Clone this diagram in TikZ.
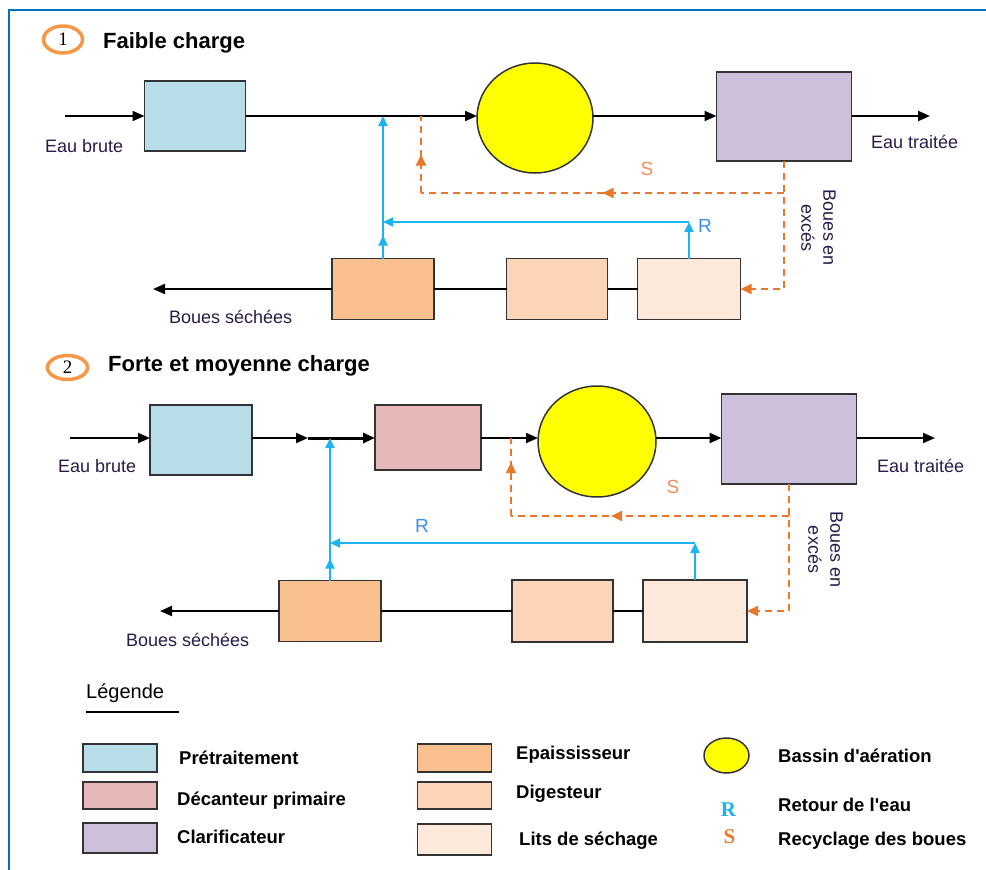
\documentclass[tikz,border=0pt]{standalone}
\usepackage{fontspec}
\setmainfont{Liberation Sans}
\newfontfamily\numfont{Liberation Serif}
\usetikzlibrary{arrows.meta,shapes.geometric,decorations.markings}

\definecolor{frameblue}{HTML}{0070C0}
\definecolor{boxline}{HTML}{333333}
\definecolor{cpre}{HTML}{B7DEE8}
\definecolor{cdec}{HTML}{E6B9B8}
\definecolor{ccla}{HTML}{CCC0DA}
\definecolor{cepa}{HTML}{FAC090}
\definecolor{cdig}{HTML}{FBD5B5}
\definecolor{clit}{HTML}{FDE9D9}
\definecolor{aer}{HTML}{FFFF00}
\definecolor{ovalorange}{HTML}{F79646}
\definecolor{rblue}{HTML}{1CB4F0}
\definecolor{rlabel}{HTML}{3D8EF2}
\definecolor{sorange}{HTML}{E8782C}
\definecolor{slabel}{HTML}{F58C5A}
\definecolor{txt}{HTML}{2A1A48}

\begin{document}
\begin{tikzpicture}[x=1pt,y=-1pt,
  unit/.style={draw=boxline, line width=1.8pt, rectangle, inner sep=0pt, outer sep=0pt},
  basin/.style={draw=boxline, line width=1.5pt, ellipse, fill=aer, inner sep=0pt, outer sep=0pt},
  numoval/.style={draw=ovalorange, line width=3.5pt, ellipse, inner sep=0pt,
    font=\numfont\fontsize{19}{19}\selectfont},
  title/.style={anchor=base west, inner sep=0pt, font=\bfseries\fontsize{22}{26}\selectfont},
  lbl/.style={anchor=base west, inner sep=0pt, text=txt, font=\fontsize{18}{22}\selectfont},
  rlbl/.style={inner sep=0pt, text=rlabel, font=\fontsize{19}{22}\selectfont},
  slbl/.style={inner sep=0pt, text=slabel, font=\fontsize{19}{22}\selectfont},
  excess/.style={rotate=-90, align=center, inner sep=0pt, text=txt,
    font=\fontsize{18}{22}\selectfont},
  flow/.style={draw=black, line width=2pt, -{Triangle[length=12pt,width=10pt]}},
  plain/.style={draw=black, line width=2pt},
  rflow/.style={draw=rblue, line width=2.2pt, -{Triangle[length=10pt,width=9pt]}},
  sline/.style={color=sorange, line width=2pt, dash pattern=on 7pt off 5pt},
  stip/.style={-{Triangle[length=11pt,width=10pt]}},
  smid/.style={postaction={decorate}, decoration={markings,
    mark=at position #1 with {\arrow{Triangle[length=11pt,width=10pt]}}}},
  legbox/.style={unit, minimum width=74pt},
  legtxt/.style={anchor=base west, inner sep=0pt, font=\bfseries\fontsize{18.5}{22}\selectfont},
]
\useasboundingbox (0,0) rectangle (986,870);

% frame
\draw[frameblue, line width=2.5pt] (9,872) -- (9,10) -- (988,10);

% ---------- 1 : Faible charge ----------
\node[numoval, minimum width=39pt, minimum height=27pt] (n1) at (63,39.5) {1};
\node[title] (t1) at (103,48) {Faible charge};

\coordinate (in1) at (65,116);
\coordinate (out1) at (930,116);
\node[unit, fill=cpre, minimum width=101pt, minimum height=70pt] (pt1) at (195,116) {};
\node[basin, minimum width=116pt, minimum height=110pt] (ba1) at (535,118) {};
\node[unit, fill=ccla, minimum width=135pt, minimum height=89pt] (cl1) at (784,116.5) {};

\node[unit, fill=cepa, minimum width=102pt, minimum height=61pt] (ep1) at (383,289) {};
\node[unit, fill=cdig, minimum width=101pt, minimum height=61pt] (dg1) at (557,289) {};
\node[unit, fill=clit, minimum width=103pt, minimum height=61pt] (ls1) at (689,289) {};
\coordinate (bs1) at (153,289);

\draw[flow] (in1) -- (pt1.west |- in1);
\draw[flow] (pt1.east |- in1) -- (ba1.west |- in1);
\draw[flow] (ba1.east |- in1) -- (cl1.west |- in1);
\draw[flow] (cl1.east |- in1) -- (out1);

\draw[plain] (ls1.west) -- (dg1.east);
\draw[plain] (dg1.west) -- (ep1.east);
\draw[flow] (ep1.west) -- (bs1);

% water return R
\coordinate (jr1) at (383,222);
\draw[rflow] (ep1.north) -- ++(0,-23);
\draw[rflow] (ep1.north) -- (ep1.north |- in1);
\draw[rflow] (ls1.north) -- (ls1.north |- jr1);
\draw[rflow] (ls1.north |- jr1) -- (jr1);

% sludge recycling S
\coordinate (so1) at (421,116);
\coordinate (sc1) at (421,193);
\draw[sline, smid=0.5] (cl1.south |- sc1) -- (sc1);
\draw[sline, smid=0.5] (sc1) -- (so1);
\draw[sline, stip] (cl1.south) -- (cl1.south |- ls1.east) -- (ls1.east);

\node[lbl] (eb1) at (45,152) {Eau brute};
\node[lbl] (et1) at (871,148) {Eau traitée};
\node[lbl] (bse1) at (169,323) {Boues séchées};
\node[rlbl] (r1) at (705,226) {R};
\node[slbl] (s1) at (647,168.5) {S};
\node[excess] (be1) at (818.5,228) {Boues en\\excés};

% ---------- 2 : Forte et moyenne charge ----------
\node[numoval, minimum width=40pt, minimum height=24pt] (n2) at (67.5,367.5) {2};
\node[title] (t2) at (108,371) {Forte et moyenne charge};

\coordinate (in2) at (70,438);
\coordinate (ja2) at (308,438);
\coordinate (out2) at (935,438);
\node[unit, fill=cpre, minimum width=102pt, minimum height=70pt] (pt2) at (201,440) {};
\node[unit, fill=cdec, minimum width=106pt, minimum height=65pt] (dp2) at (428,437.5) {};
\node[basin, minimum width=118pt, minimum height=111pt] (ba2) at (597,441.5) {};
\node[unit, fill=ccla, minimum width=135pt, minimum height=90pt] (cl2) at (789,439) {};

\node[unit, fill=cepa, minimum width=102pt, minimum height=61pt] (ep2) at (330,611) {};
\node[unit, fill=cdig, minimum width=101pt, minimum height=62pt] (dg2) at (562.5,611) {};
\node[unit, fill=clit, minimum width=104pt, minimum height=62pt] (ls2) at (695,611) {};
\coordinate (bs2) at (160,611);

\draw[flow] (in2) -- (pt2.west |- in2);
\draw[flow] (pt2.east |- in2) -- (ja2);
\draw[flow, line width=3pt] (ja2) -- (dp2.west |- in2);
\draw[flow] (dp2.east |- in2) -- (ba2.west |- in2);
\draw[flow, line width=2.4pt] (ba2.east |- in2) -- (cl2.west |- in2);
\draw[flow] (cl2.east |- in2) -- (out2);

\draw[plain] (ls2.west) -- (dg2.east);
\draw[plain] (dg2.west) -- (ep2.east);
\draw[flow] (ep2.west) -- (bs2);

% water return R
\coordinate (jr2) at (330,543);
\draw[rflow] (ep2.north) -- ++(0,-22);
\draw[rflow] (ep2.north) -- (ep2.north |- in2);
\draw[rflow] (ls2.north) -- (ls2.north |- jr2);
\draw[rflow] (ls2.north |- jr2) -- (jr2);

% sludge recycling S
\coordinate (so2) at (511,438);
\coordinate (sc2) at (511,516);
\draw[sline, smid=0.64] (cl2.south |- sc2) -- (sc2);
\draw[sline, smid=0.69] (sc2) -- (so2);
\draw[sline, stip] (cl2.south) -- (cl2.south |- ls2.east) -- (ls2.east);

\node[lbl] (eb2) at (58,472) {Eau brute};
\node[lbl] (et2) at (877,472) {Eau traitée};
\node[lbl] (bse2) at (126,646) {Boues séchées};
\node[rlbl] (r2) at (422,526) {R};
\node[slbl] (s2) at (673,486.5) {S};
\node[excess] (be2) at (825.5,549.5) {Boues en\\excés};

% ---------- legend ----------
\node[anchor=base west, inner sep=0pt, font=\fontsize{20}{24}\selectfont] (leg) at (86,698) {Légende};
\draw[black, line width=1.6pt] (leg.south west |- 0,712) -- (179,712);

\node[legbox, fill=cpre, minimum height=28pt] (k1) at (120,758) {};
\node[legbox, fill=cdec, minimum height=27pt] (k2) at (120,795.5) {};
\node[legbox, fill=ccla, minimum height=30pt] (k3) at (120,838) {};
\node[legtxt] at (179,764) {Prétraitement};
\node[legtxt] at (177,805) {Décanteur primaire};
\node[legtxt] at (177,843) {Clarificateur};

\node[legbox, fill=cepa, minimum height=28pt] (k4) at (454.5,758) {};
\node[legbox, fill=cdig, minimum height=27pt] (k5) at (454.5,795.5) {};
\node[legbox, fill=clit, minimum height=31pt] (k6) at (454.5,839.5) {};
\node[legtxt] at (516,759) {Epaississeur};
\node[legtxt] at (516,798) {Digesteur};
\node[legtxt] at (519,845) {Lits de séchage};

\node[basin, minimum width=45pt, minimum height=35pt] (k7) at (726.5,755.5) {};
\node[inner sep=0pt, text=rblue, font=\numfont\bfseries\fontsize{21}{24}\selectfont] (k8) at (728.5,809.5) {R};
\node[inner sep=0pt, text=sorange, font=\numfont\bfseries\fontsize{21}{24}\selectfont] (k9) at (729.5,837) {S};
\node[legtxt] at (778,762) {Bassin d\textquotesingle aération};
\node[legtxt] at (778,811) {Retour de l\textquotesingle eau};
\node[legtxt] at (778,845) {Recyclage des boues};
\end{tikzpicture}
\end{document}
